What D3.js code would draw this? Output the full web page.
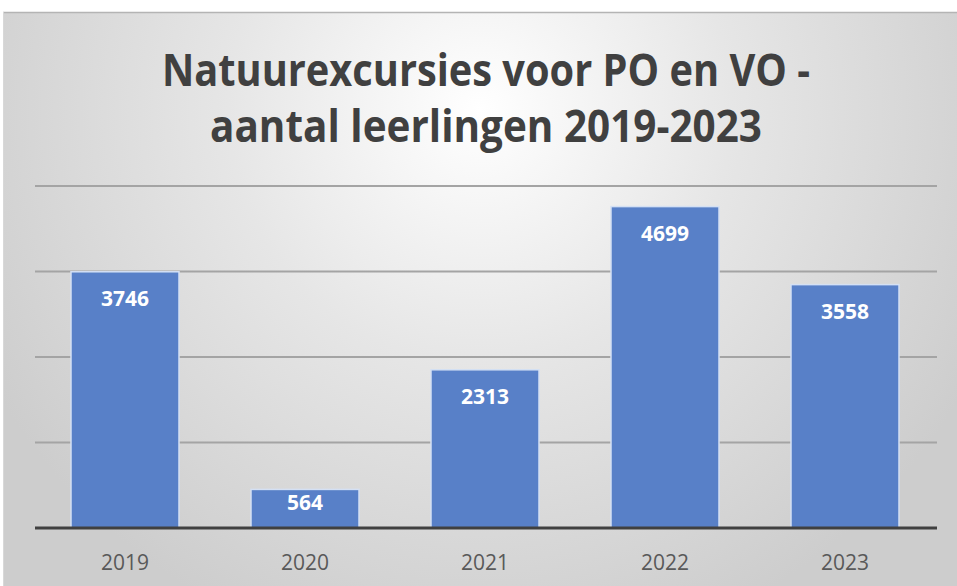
<!DOCTYPE html>
<html>
<head>
<meta charset="utf-8">
<script src="https://cdn.jsdelivr.net/npm/d3@7"></script>
<style>
  body { margin: 0; background: #fff; }
</style>
</head>
<body>
<div id="chart"></div>
<script>
// data
const years = ["2019", "2020", "2021", "2022", "2023"];
const leerlingen = [3746, 564, 2313, 4699, 3558];
const gridValues = [1250, 2500, 3750, 5000];
const titleLines = ["Natuurexcursies voor PO en VO -", "aantal leerlingen 2019-2023"];

const W = 957, H = 586;
const margin = { top: 186, right: 20, bottom: 58, left: 35 };

const svg = d3.select("#chart")
  .append("svg")
  .attr("width", W)
  .attr("height", H);

// background gradient
const defs = svg.append("defs");
const grad = defs.append("radialGradient")
  .attr("id", "bg")
  .attr("gradientUnits", "userSpaceOnUse")
  .attr("cx", 480).attr("cy", 110)
  .attr("r", 560);
grad.append("stop").attr("offset", "0%").attr("stop-color", "#ffffff");
grad.append("stop").attr("offset", "45%").attr("stop-color", "#e6e6e6");
grad.append("stop").attr("offset", "100%").attr("stop-color", "#cdcdcd");

svg.append("rect")
  .attr("x", 3).attr("y", 12)
  .attr("width", W - 3).attr("height", H - 12)
  .attr("fill", "url(#bg)");
svg.append("line")
  .attr("x1", 3).attr("x2", W)
  .attr("y1", 12.5).attr("y2", 12.5)
  .attr("stroke", "#b4b4b4")
  .attr("stroke-width", 1.5);
svg.append("line")
  .attr("x1", 3.5).attr("x2", 3.5)
  .attr("y1", 12).attr("y2", H)
  .attr("stroke", "#d8d8d8")
  .attr("stroke-width", 1);

// title
svg.selectAll(".title")
  .data(titleLines)
  .enter()
  .append("text")
  .attr("class", "title")
  .attr("x", 486)
  .attr("y", (d, i) => 86 + i * 56)
  .attr("text-anchor", "middle")
  .attr("font-family", "'Open Sans', sans-serif")
  .attr("font-weight", "bold")
  .attr("font-size", "44px")
  .attr("fill", "#404040")
  .attr("textLength", (d, i) => i === 0 ? 648 : 552)
  .attr("lengthAdjust", "spacingAndGlyphs")
  .text(d => d);

const width = W - margin.left - margin.right;
const height = H - margin.top - margin.bottom;

const g = svg.append("g")
  .attr("transform", `translate(${margin.left},${margin.top})`);

const x = d3.scaleBand()
  .domain(years)
  .range([0, width - 2])
  .paddingInner(0.4)
  .paddingOuter(0.2);

const y = d3.scaleLinear()
  .domain([0, 5000])
  .range([height, 0]);

// gridlines
g.selectAll(".grid")
  .data(gridValues)
  .enter()
  .append("line")
  .attr("class", "grid")
  .attr("x1", 0)
  .attr("x2", width)
  .attr("y1", d => y(d))
  .attr("y2", d => y(d))
  .attr("stroke", "#a4a4a4")
  .attr("stroke-width", 2);

const data = years.map((yr, i) => ({ year: yr, value: leerlingen[i] }));

// bars
g.selectAll(".bar")
  .data(data)
  .enter()
  .append("rect")
  .attr("class", "bar")
  .attr("x", d => x(d.year))
  .attr("y", d => y(d.value))
  .attr("width", x.bandwidth())
  .attr("height", d => y(0) - y(d.value))
  .attr("fill", "#5880c8")
  .attr("stroke", "#d4e0f4")
  .attr("stroke-width", 1.5);

// value labels
g.selectAll(".lbl")
  .data(data)
  .enter()
  .append("text")
  .attr("class", "lbl")
  .attr("x", d => x(d.year) + x.bandwidth() / 2)
  .attr("y", d => Math.min(y(d.value) + 34, (y(d.value) + y(0)) / 2 + 1))
  .attr("text-anchor", "middle")
  .attr("font-family", "'Open Sans', sans-serif")
  .attr("font-weight", "bold")
  .attr("font-size", "21px")
  .attr("fill", "#ffffff")
  .text(d => d.value);

// x axis
const xAxis = g.append("g")
  .attr("transform", `translate(0,${height})`)
  .call(d3.axisBottom(x).tickSize(0).tickPadding(27));
xAxis.select(".domain")
  .attr("stroke", "#404040")
  .attr("stroke-width", 3)
  .attr("d", `M0,0H${width}`);
xAxis.selectAll("text")
  .attr("font-family", "'Open Sans', sans-serif")
  .attr("font-size", "21px")
  .attr("fill", "#595959");
</script>
</body>
</html>
